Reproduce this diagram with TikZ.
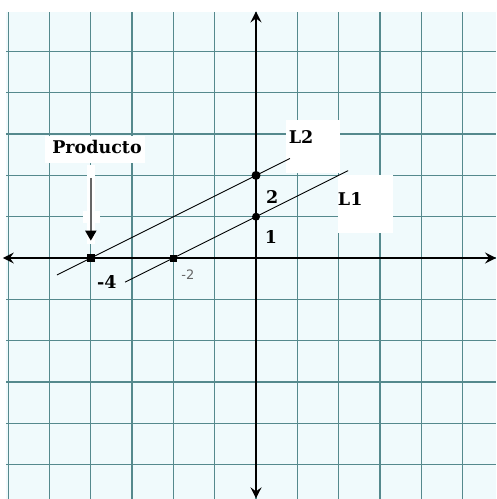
\documentclass[tikz,border=0pt]{standalone}
\usepackage{fontspec}
\setmainfont{DejaVu Serif}
\newfontfamily\lblsans{DejaVu Sans}
\usetikzlibrary{arrows.meta}
\definecolor{gridc}{HTML}{55898D}
\definecolor{paper}{HTML}{F0FAFC}
\tikzset{
  gridline/.style={draw=gridc, line width=1.3pt},
  axisline/.style={draw=black, line width=2.6pt, -{Stealth[length=11pt,width=11pt,inset=4pt]}},
  graphline/.style={draw=black, line width=0.9pt},
  lbl/.style={font=\fontsize{17.5}{20}\selectfont\bfseries, inner sep=0pt},
  whitebox/.style={fill=white, draw=none},
  rounddot/.style={circle, fill=black, inner sep=0pt},
  sqdot/.style={rectangle, fill=black, inner sep=0pt},
}
\begin{document}
\begin{tikzpicture}[x=41.3pt,y=41.3pt]
\useasboundingbox (-6.199,-5.835) rectangle (5.811,6.247);
\fill[white] (-6.199,-5.835) rectangle (5.811,6.247);
% paper
\fill[paper] (-6.05,-5.835) rectangle (5.811,5.96);
% grid
\foreach \i in {-6,...,5} \draw[gridline] (\i,-5.835) -- (\i,5.96);
\foreach \j in {-5,...,5} \draw[gridline] (-6.05,\j) -- (5.811,\j);
% white label boxes
\fill[whitebox] (-5.11,2.30) rectangle (-2.69,2.95);
\fill[whitebox] (-4.20,0.85) rectangle (-3.78,1.15);
\fill[whitebox] (-4.10,0.35) rectangle (-3.90,2.25);
\fill[whitebox] (0.73,2.06) rectangle (2.03,3.34);
\fill[whitebox] (1.99,0.61) rectangle (3.32,2.01);
% axes
\coordinate (xl) at (5.811,0);
\coordinate (xr) at (-6.13,0);
\coordinate (yt) at (0,-5.82);
\coordinate (yb) at (0,5.97);
\draw[axisline] (-1,0) -- (xl);
\draw[axisline] (1,0) -- (xr);
\draw[axisline] (0,-1) -- (yb);
\draw[axisline] (0,1) -- (yt);
\draw[draw=black, line width=2.6pt] (-1,0) -- (1,0) (0,-1) -- (0,1);
% lines
\coordinate (L1a) at (-3.17,-0.585);
\coordinate (L1b) at (2.23,2.115);
\coordinate (L2a) at (-4.82,-0.41);
\coordinate (L2b) at (0.82,2.41);
\draw[graphline] (L1a) -- (L1b);
\draw[graphline] (L2a) -- (L2b);
% points
\node[sqdot, minimum size=8pt] (pm4) at (-4,0) {};
\node[sqdot, minimum size=7pt] (pm2) at (-2,0) {};
\node[rounddot, minimum size=9pt] (p2) at (0,2) {};
\node[rounddot, minimum size=8pt] (p1) at (0,1) {};
% labels
\node[lbl] (prod) at (-3.85,2.69) {Producto};
\coordinate (arS) at (-4,1.94);
\coordinate (arE) at (-4,0.42);
\draw[draw=black!60, line width=1.8pt, -{Triangle[length=10pt,width=11pt,color=black]}] (arS) -- (arE);
\node[lbl] (lL2) at (1.09,2.93) {L2};
\node[lbl] (lL1) at (2.28,1.43) {L1};
\node[lbl] (l2) at (0.39,1.48) {2};
\node[lbl] (l1) at (0.36,0.51) {1};
\node[lbl] (lm4) at (-3.61,-0.58) {-4};
\node[inner sep=0pt, text=black!60, font=\lblsans\fontsize{13}{15}\selectfont] (lm2) at (-1.65,-0.41) {-2};
\end{tikzpicture}
\end{document}
